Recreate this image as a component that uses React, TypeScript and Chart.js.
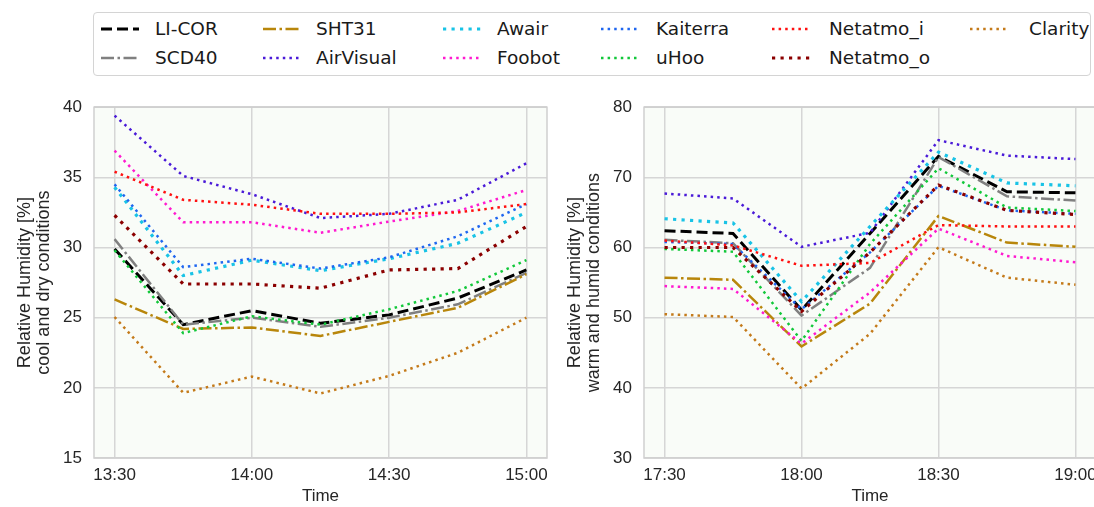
import React, { useEffect, useRef } from "react";
import { Chart, registerables } from "chart.js";

Chart.register(...registerables);

// ---------- data ----------
const seriesNames = ["LI-COR", "SCD40", "SHT31", "AirVisual", "Awair", "Foobot", "Kaiterra", "uHoo", "Netatmo_i", "Netatmo_o", "Clarity"];

// minutes after the first sample (15-minute steps)
const sampleMinutes = [0, 15, 30, 45, 60, 75, 90];
const tickMinutes = [0, 30, 60, 90];
const coolTickLabels = ["13:30", "14:00", "14:30", "15:00"];
const warmTickLabels = ["17:30", "18:00", "18:30", "19:00"];

// cool and dry conditions
const licorCool = [29.9, 24.5, 25.5, 24.6, 25.2, 26.4, 28.4];
const scd40Cool = [30.6, 24.5, 25.0, 24.35, 25.0, 25.95, 28.2];
const sht31Cool = [26.3, 24.2, 24.3, 23.7, 24.7, 25.7, 28.1];
const airvisualCool = [39.4, 35.1, 33.8, 32.1, 32.4, 33.4, 36.0];
const awairCool = [34.3, 28.0, 29.1, 28.35, 29.2, 30.3, 32.5];
const foobotCool = [36.9, 31.8, 31.8, 31.05, 31.85, 32.6, 34.1];
const kaiterraCool = [34.5, 28.6, 29.2, 28.5, 29.3, 30.8, 33.1];
const uhooCool = [29.8, 23.9, 25.1, 24.5, 25.6, 26.9, 29.1];
const netatmoICool = [35.4, 33.4, 33.05, 32.4, 32.4, 32.5, 33.1];
const netatmoOCool = [32.3, 27.4, 27.4, 27.1, 28.4, 28.5, 31.5];
const clarityCool = [25.05, 19.65, 20.8, 19.6, 20.85, 22.5, 25.0];

// warm and humid conditions
const licorWarm = [62.4, 62.0, 51.1, 62.0, 73.0, 67.95, 67.8];
const scd40Warm = [61.1, 60.6, 50.3, 57.1, 72.9, 67.3, 66.7];
const sht31Warm = [55.7, 55.4, 45.9, 52.0, 64.5, 60.7, 60.1];
const airvisualWarm = [67.7, 67.0, 60.1, 62.1, 75.3, 73.1, 72.6];
const awairWarm = [64.1, 63.5, 52.3, 63.0, 73.6, 69.2, 68.8];
const foobotWarm = [54.5, 54.1, 46.3, 53.6, 62.7, 58.8, 57.9];
const kaiterraWarm = [60.8, 60.5, 51.2, 59.3, 68.8, 65.3, 64.8];
const uhooWarm = [59.8, 59.4, 46.7, 60.5, 71.3, 65.7, 65.2];
const netatmoIWarm = [61.0, 60.3, 57.4, 57.8, 63.2, 63.0, 63.0];
const netatmoOWarm = [60.0, 60.0, 50.9, 59.3, 68.9, 65.3, 64.7];
const clarityWarm = [50.5, 50.1, 39.9, 47.7, 60.05, 55.7, 54.7];

const coolValues = [licorCool, scd40Cool, sht31Cool, airvisualCool, awairCool, foobotCool, kaiterraCool, uhooCool, netatmoICool, netatmoOCool, clarityCool];
const warmValues = [licorWarm, scd40Warm, sht31Warm, airvisualWarm, awairWarm, foobotWarm, kaiterraWarm, uhooWarm, netatmoIWarm, netatmoOWarm, clarityWarm];

// ---------- styles ----------
const DASHED = [11, 5];
const DASHDOT = [13, 3.5, 2.5, 3.5];
const DOT = [2.5, 4.1];
const DOT_THICK = [3.2, 5.3];
const seriesStyles = [
  { color: "#000000", width: 3, dash: DASHED },
  { color: "#808080", width: 2.5, dash: DASHDOT },
  { color: "#b8860b", width: 2.5, dash: DASHDOT },
  { color: "#4a1ad8", width: 2.5, dash: DOT },
  { color: "#19c3e6", width: 3.2, dash: DOT_THICK },
  { color: "#ff1ad0", width: 2.5, dash: DOT },
  { color: "#1f66f0", width: 2.5, dash: DOT },
  { color: "#12c83a", width: 2.5, dash: DOT },
  { color: "#ff1010", width: 2.5, dash: DOT },
  { color: "#8b0000", width: 3.2, dash: DOT_THICK },
  { color: "#c47a1a", width: 2.5, dash: DOT },
];

const TEXT = "#262626";
const GRID = "#d6d6d6";
const PLOT_BG = "#f9fcf8";
const AXIS_FONT = "'Liberation Sans', Arial, sans-serif";
const LEGEND_FONT = "'DejaVu Sans', sans-serif";

const framePlugin = {
  id: "frame",
  beforeDraw(chart: any) {
    const { ctx, chartArea: a } = chart;
    ctx.save();
    ctx.fillStyle = PLOT_BG;
    ctx.fillRect(a.left, a.top, a.right - a.left, a.bottom - a.top);
    ctx.restore();
  },
  afterDraw(chart: any) {
    const { ctx, chartArea: a } = chart;
    ctx.save();
    ctx.strokeStyle = "#cfcfcf";
    ctx.lineWidth = 1.5;
    ctx.strokeRect(a.left, a.top, a.right - a.left, a.bottom - a.top);
    ctx.restore();
  },
};

function makeConfig(values: number[][], yMin: number, yMax: number, yStep: number, tickLabels: string[], yTitle: string[], padRight: number): any {
  return {
    type: "line",
    data: {
      datasets: seriesNames.map((name, i) => ({
        label: name,
        data: sampleMinutes.map((m, j) => ({ x: m, y: values[i][j] })),
        borderColor: seriesStyles[i].color,
        borderWidth: seriesStyles[i].width,
        borderDash: seriesStyles[i].dash,
        borderCapStyle: "butt",
        pointRadius: 0,
        tension: 0,
        fill: false,
        order: seriesNames.length - i,
      })),
    },
    options: {
      animation: false,
      responsive: false,
      events: [],
      layout: { padding: { top: 14, right: padRight, left: 0, bottom: 0 } },
      plugins: { legend: { display: false }, tooltip: { enabled: false } },
      scales: {
        x: {
          type: "linear",
          min: -4.5,
          max: 94.5,
          afterBuildTicks: (s: any) => {
            s.ticks = tickMinutes.map((v) => ({ value: v }));
          },
          afterFit: (s: any) => {
            s.height = 49;
          },
          ticks: {
            autoSkip: false,
            maxRotation: 0,
            padding: 7,
            color: TEXT,
            font: { family: AXIS_FONT, size: 17 },
            callback: (_v: any, idx: number) => tickLabels[idx],
          },
          grid: { color: GRID, lineWidth: 1.5, drawTicks: false },
          border: { display: false },
          title: {
            display: true,
            text: "Time",
            color: TEXT,
            font: { family: AXIS_FONT, size: 17, lineHeight: 1.1 },
            padding: { top: 0, bottom: 1 },
          },
        },
        y: {
          min: yMin,
          max: yMax,
          afterFit: (s: any) => {
            s.width = 94;
          },
          ticks: {
            stepSize: yStep,
            padding: 12,
            color: TEXT,
            font: { family: AXIS_FONT, size: 17 },
          },
          grid: { color: GRID, lineWidth: 1.5, drawTicks: false },
          border: { display: false },
          title: {
            display: true,
            text: yTitle,
            color: TEXT,
            font: { family: AXIS_FONT, size: 18, lineHeight: 1.05 },
            padding: { top: 16, bottom: 0 },
          },
        },
      },
    },
    plugins: [framePlugin],
  };
}

function LineChart(props: { config: any; left: number; top: number; width: number; height: number }) {
  const ref = useRef<HTMLCanvasElement | null>(null);
  useEffect(() => {
    if (!ref.current) return;
    const chart = new Chart(ref.current, props.config);
    return () => chart.destroy();
  }, []);
  return (
    <canvas
      ref={ref}
      width={props.width}
      height={props.height}
      style={{ position: "absolute", left: props.left, top: props.top, width: props.width, height: props.height }}
    />
  );
}

// legend layout: column-major, 2 rows
const legendColumns = [
  [0, 1],
  [2, 3],
  [4, 5],
  [6, 7],
  [8, 9],
  [10],
];
const legendSampleX = [100, 262, 442, 600, 771, 969];
const legendTextX = [154, 315, 496, 655, 828, 1028];
const legendRowY = [28, 57];

function Legend() {
  const items: any[] = [];
  legendColumns.forEach((col, c) => {
    col.forEach((si, r) => {
      const st = seriesStyles[si];
      items.push(
        <svg
          key={"s" + si}
          width={38}
          height={10}
          style={{ position: "absolute", left: legendSampleX[c] - 93, top: legendRowY[r] - 12 - 5 }}
        >
          <line x1={0} y1={5} x2={38} y2={5} stroke={st.color} strokeWidth={st.width} strokeDasharray={st.dash.join(" ")} />
        </svg>
      );
      items.push(
        <div
          key={"t" + si}
          style={{
            position: "absolute",
            left: legendTextX[c] - 93,
            top: legendRowY[r] - 12 - 12,
            height: 24,
            lineHeight: "24px",
            fontFamily: LEGEND_FONT,
            fontSize: 18.5,
            color: "#1a1a1a",
            whiteSpace: "nowrap",
          }}
        >
          {seriesNames[si]}
        </div>
      );
    });
  });
  return (
    <div
      style={{
        position: "absolute",
        left: 93,
        top: 12,
        width: 998,
        height: 64,
        border: "1px solid #d4d4d4",
        borderRadius: 4,
        background: "#ffffff",
        boxSizing: "border-box",
      }}
    >
      {items}
    </div>
  );
}

export default function App() {
  const coolConfig = makeConfig(coolValues, 15, 40, 5, coolTickLabels, ["Relative Humidity [%]", "cool and dry conditions"], 13);
  const warmConfig = makeConfig(warmValues, 30, 80, 10, warmTickLabels, ["Relative Humidity [%]", "warm and humid conditions"], 14);
  return (
    <div
      style={{
        position: "fixed",
        left: 0,
        top: 0,
        width: 1094,
        height: 507,
        overflow: "hidden",
        background: "#ffffff",
      }}
    >
      <LineChart config={coolConfig} left={0} top={85} width={560} height={422} />
      <LineChart config={warmConfig} left={550} top={85} width={560} height={422} />
      <Legend />
    </div>
  );
}
